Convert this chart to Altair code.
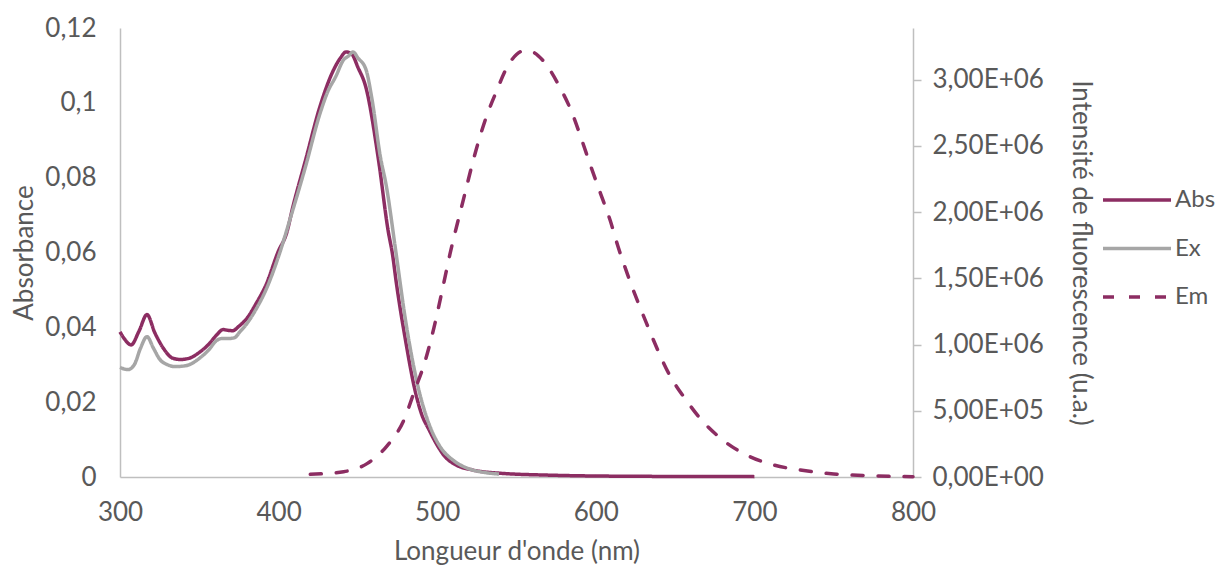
import altair as alt
import pandas as pd

FONT = "Lato"
TXT = "#595959"
AXC = "#BFBFBF"
FS = 26

series_names = ["Abs", "Ex", "Em"]
series_colors = ["#8C2D62", "#A6A6A6", "#8C2D62"]

abs_nm = [300, 303, 307, 312, 317, 322, 328, 333, 338, 344, 350, 356, 361, 365, 368, 371, 375, 380,
          386, 392, 400, 405, 409, 417, 426, 434, 439, 442.5, 446, 450, 455, 463, 469, 472, 474, 480,
          486, 490, 495, 500, 505, 512, 522, 540, 570, 620, 700]
abs_val = [0.0388, 0.0368, 0.0353, 0.0390, 0.0434, 0.0385, 0.0340, 0.0318, 0.0314, 0.0318, 0.0333,
           0.0355, 0.0380, 0.0394, 0.0392, 0.0391, 0.0403, 0.0424, 0.0465, 0.0513, 0.0605, 0.0651,
           0.0722, 0.0847, 0.0989, 0.1082, 0.1120, 0.1136, 0.1131, 0.1095, 0.1042, 0.0847, 0.0660,
           0.0590, 0.0526, 0.0366, 0.0232, 0.0170, 0.0125, 0.0085, 0.0054, 0.0032, 0.0019, 0.0010,
           0.0005, 0.0002, 0.0001]

ex_nm = [300, 305, 309, 313, 317, 321, 325, 330, 335, 342, 350, 356, 361, 364, 368, 372, 376, 380,
         386, 392, 400, 408, 417, 426, 431, 436, 441, 444, 447, 450, 455, 459, 464, 468, 474, 480,
         488, 495, 502, 510, 520, 530, 539]
ex_val = [0.0293, 0.0287, 0.0300, 0.0345, 0.0375, 0.0345, 0.0315, 0.0300, 0.0295, 0.0298, 0.0317,
          0.0340, 0.0365, 0.0370, 0.0370, 0.0372, 0.0390, 0.0410, 0.0450, 0.0500, 0.0590, 0.0700,
          0.0830, 0.0970, 0.1030, 0.1070, 0.1115, 0.1125, 0.1136, 0.1120, 0.1090, 0.1007, 0.0860,
          0.0776, 0.0600, 0.0420, 0.0240, 0.0140, 0.0080, 0.0045, 0.0022, 0.0012, 0.0008]

em_nm = [420, 441, 456, 468, 479, 486, 492, 498, 503, 508, 516, 525, 531, 538, 543, 550, 555, 560,
         567, 577, 585, 591, 597, 603, 609, 614, 620, 632, 647, 657, 666, 680, 695, 712, 729, 750,
         771, 785, 800]
em_val = [2.0e4, 4.0e4, 1.03e5, 2.3e5, 4.3e5, 6.6e5, 8.6e5, 1.13e6, 1.40e6, 1.68e6, 2.07e6, 2.49e6,
          2.72e6, 2.93e6, 3.07e6, 3.19e6, 3.22e6, 3.21e6, 3.14e6, 2.95e6, 2.75e6, 2.55e6, 2.34e6,
          2.14e6, 1.94e6, 1.74e6, 1.53e6, 1.16e6, 7.6e5, 5.8e5, 4.4e5, 2.8e5, 1.66e5, 9.1e4, 5.3e4,
          2.3e4, 1.0e4, 5.0e3, 2.0e3]

left_ticks = [0, 0.02, 0.04, 0.06, 0.08, 0.1, 0.12]
right_ticks = [0, 5e5, 1e6, 1.5e6, 2e6, 2.5e6, 3e6]
x_ticks = [300, 400, 500, 600, 700, 800]

df_left = pd.DataFrame({
    "nm": abs_nm + ex_nm,
    "val": abs_val + ex_val,
    "series": ["Abs"] * len(abs_nm) + ["Ex"] * len(ex_nm),
})
df_right = pd.DataFrame({"nm": em_nm, "val": em_val, "series": ["Em"] * len(em_nm)})

legend = alt.Legend(
    title=None, orient="none", legendX=981, legendY=162,
    symbolType="stroke", symbolSize=4624, symbolStrokeWidth=3.5,
    labelFontSize=24, labelColor=TXT, labelFont=FONT, labelOffset=2,
    rowPadding=24.5, clipHeight=20, padding=0,
)
color_enc = alt.Color("series:N", scale=alt.Scale(domain=series_names, range=series_colors), legend=legend)
dash_enc = alt.StrokeDash("series:N",
                          scale=alt.Scale(domain=series_names, range=[[1, 0], [1, 0], [11, 15]]),
                          legend=legend)

x_enc = alt.X("nm:Q", scale=alt.Scale(domain=[300, 800], nice=False, zero=False),
              axis=alt.Axis(title="Longueur d'onde (nm)", values=x_ticks, ticks=False, tickSize=0,
                            labelFlush=False, labelPadding=22, titlePadding=13,
                            domainColor=AXC, domainWidth=1.5))

left = alt.Chart(df_left).mark_line(strokeWidth=3.5, strokeJoin="round", interpolate="monotone").encode(
    x=x_enc,
    y=alt.Y("val:Q", scale=alt.Scale(domain=[0, 0.12], nice=False),
            axis=alt.Axis(title="Absorbance", values=left_ticks, orient="left",
                          labelExpr="replace(format(datum.value, '.2~f'), '.', ',')",
                          ticks=False, tickSize=0, labelPadding=24, titlePadding=7,
                          labelFlush=False, domainColor=AXC, domainWidth=1.5)),
    color=color_enc,
    strokeDash=dash_enc,
)

right = alt.Chart(df_right).mark_line(strokeWidth=3.5, strokeCap="round", strokeJoin="round",
                                      interpolate="monotone").encode(
    x=x_enc,
    y=alt.Y("val:Q", scale=alt.Scale(domain=[0, 3.39e6], nice=False),
            axis=alt.Axis(title="Intensité de fluorescence (u.a.)", values=right_ticks, orient="right",
                          labelExpr="replace(replace(format(datum.value, '.2e'), '.', ','), 'e+', 'E+0')",
                          ticks=True, tickSize=8, tickColor=AXC, tickWidth=1.5, labelPadding=11,
                          labelFlush=False, titlePadding=24, domainColor=AXC, domainWidth=1.5)),
    color=color_enc,
    strokeDash=dash_enc,
)

chart = alt.layer(left, right).resolve_scale(y="independent").properties(
    width=793, height=449,
    autosize=alt.AutoSizeParams(type="none"),
    padding={"left": 112, "top": 20, "right": 303, "bottom": 91},
).configure_view(stroke=None).configure_axis(
    grid=False, labelFont=FONT, labelFontSize=FS, labelColor=TXT,
    titleFont=FONT, titleFontSize=FS, titleColor=TXT, titleFontWeight="normal",
)

chart.save("out.html", embed_options={"renderer": "svg", "actions": False})
